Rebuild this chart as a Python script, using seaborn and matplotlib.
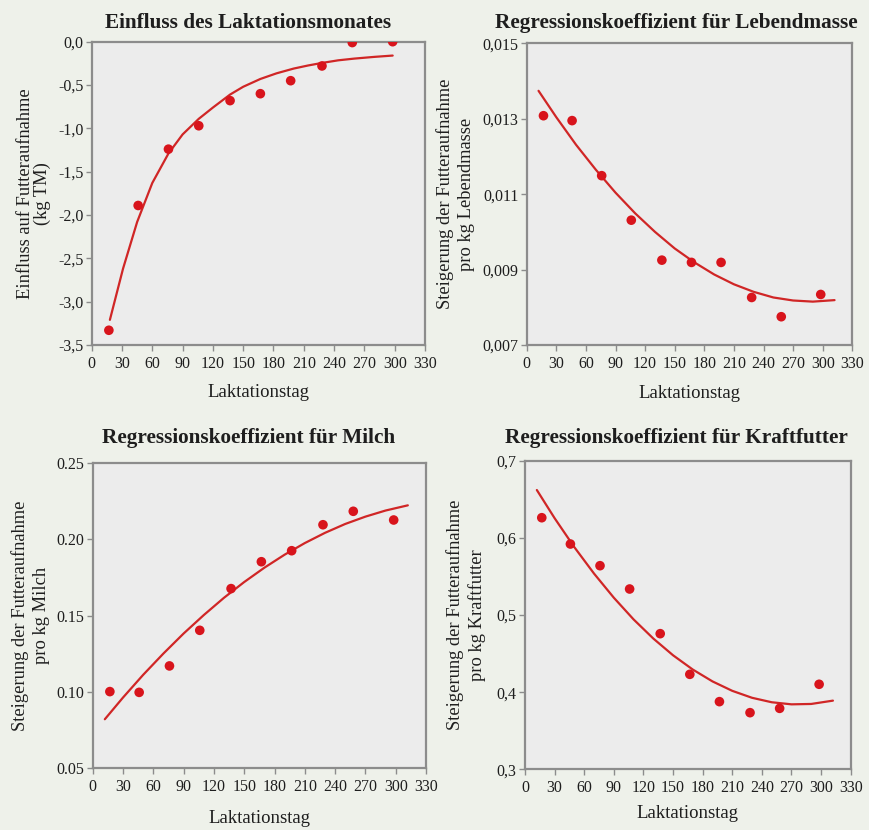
import matplotlib
matplotlib.use("Agg")
import matplotlib.pyplot as plt
from matplotlib.ticker import FuncFormatter, FixedLocator
import seaborn as sns
import pandas as pd

# ---------------- data ----------------
days = [17, 46, 76, 106, 137, 167, 197, 228, 258, 298]

einfluss = [-3.33, -1.89, -1.24, -0.97, -0.68, -0.60, -0.45, -0.28, -0.01, 0.00]
lebendmasse = [0.01308, 0.01295, 0.01149, 0.01031, 0.00925, 0.00919, 0.00919, 0.00826, 0.00775, 0.00834]
milch = [0.1002, 0.0997, 0.1170, 0.1403, 0.1676, 0.1852, 0.1924, 0.2094, 0.2182, 0.2125]
kraftfutter = [0.6261, 0.5920, 0.5639, 0.5337, 0.4758, 0.4231, 0.3877, 0.3734, 0.3790, 0.4102]

# fitted curves
fit1_x = [18, 31, 45, 60, 76, 90, 106, 120, 137, 150, 167, 183, 200, 214, 228, 244, 260, 280, 298]
fit1_y = [-3.21, -2.62, -2.08, -1.63, -1.29, -1.07, -0.89, -0.76, -0.61, -0.52, -0.43, -0.365,
          -0.31, -0.275, -0.245, -0.215, -0.195, -0.175, -0.16]

fit_x = [12, 30, 50, 70, 90, 110, 130, 150, 170, 190, 210, 230, 250, 270, 290, 312]
fit2_y = [0.01374, 0.01304, 0.01231, 0.01165, 0.01104, 0.01049, 0.01000, 0.00956, 0.00919,
          0.00887, 0.00861, 0.00841, 0.00826, 0.00818, 0.00815, 0.00819]
fit3_y = [0.0821, 0.0963, 0.1112, 0.1251, 0.1382, 0.1503, 0.1616, 0.1719, 0.1813, 0.1898,
          0.1974, 0.2041, 0.2099, 0.2147, 0.2187, 0.2221]
fit4_y = [0.662, 0.6255, 0.5879, 0.5536, 0.5224, 0.4943, 0.4695, 0.4478, 0.4293, 0.4139,
          0.4017, 0.3927, 0.3869, 0.3842, 0.3847, 0.3890]

titles = ["Einfluss des Laktationsmonates",
          "Regressionskoeffizient für Lebendmasse",
          "Regressionskoeffizient für Milch",
          "Regressionskoeffizient für Kraftfutter"]
ylabels = ["Einfluss auf Futteraufnahme\n(kg TM)",
           "Steigerung der Futteraufnahme\npro kg Lebendmasse",
           "Steigerung der Futteraufnahme\npro kg Milch",
           "Steigerung der Futteraufnahme\npro kg Kraftfutter"]
xlabel = "Laktationstag"
xticks = [0, 30, 60, 90, 120, 150, 180, 210, 240, 270, 300, 330]
yticks = [
    [0.0, -0.5, -1.0, -1.5, -2.0, -2.5, -3.0, -3.5],
    [0.007, 0.009, 0.011, 0.013, 0.015],
    [0.05, 0.10, 0.15, 0.20, 0.25],
    [0.3, 0.4, 0.5, 0.6, 0.7],
]
ydec = [1, 3, 2, 1]
ydecsep = [",", ",", ".", ","]

# ---------------- style ----------------
sns.set_theme(style="ticks")
plt.rcParams["font.family"] = ["Liberation Serif", "DejaVu Serif"]

FIG_BG = "#eef1ea"
AX_BG = "#ececec"
RED_PT = "#d8141c"
RED_LN = "#d02626"
SPINE = "#8c8c8c"
TXT = "#1e1e1e"

W, H = 869, 830
fig = plt.figure(figsize=(W / 100, H / 100), dpi=100, facecolor=FIG_BG)

# axes boxes in pixels: left, top, right, bottom
boxes = [
    (91.7, 41.7, 425.0, 345.0),
    (526.7, 43.3, 852.3, 345.0),
    (92.7, 462.7, 426.0, 768.3),
    (525.0, 460.7, 850.7, 769.3),
]
title_cx = [248.5, 676.0, 249.0, 676.5]
title_cy = [23.0, 23.0, 438.0, 438.0]
ylab_cx = [34.0, 455.5, 30.5, 466.0]
ylab_ls = [1.05, 1.35, 1.35, 1.35]
xlab_cy = [392.0, 393.0, 818.0, 813.0]

series = [einfluss, lebendmasse, milch, kraftfutter]
fits = [(fit1_x, fit1_y), (fit_x, fit2_y), (fit_x, fit3_y), (fit_x, fit4_y)]

for i in range(4):
    l, t, r, b = boxes[i]
    w, h = r - l, b - t
    ax = fig.add_axes([l / W, 1 - b / H, w / W, h / H])
    ax.set_facecolor(AX_BG)
    pts = pd.DataFrame({"x": days, "y": series[i]})
    crv = pd.DataFrame({"x": fits[i][0], "y": fits[i][1]})
    sns.lineplot(data=crv, x="x", y="y", ax=ax, color=RED_LN, lw=1.6, zorder=2)
    sns.scatterplot(data=pts, x="x", y="y", ax=ax, color=RED_PT, s=48,
                    edgecolor="none", zorder=3)
    ax.set_xlim(0, 330)
    yt = yticks[i]
    ax.set_ylim(min(yt), max(yt))
    ax.xaxis.set_major_locator(FixedLocator(xticks))
    ax.yaxis.set_major_locator(FixedLocator(yt))
    d, sep = ydec[i], ydecsep[i]
    ax.yaxis.set_major_formatter(FuncFormatter(
        lambda v, p, d=d, sep=sep: (f"{v:.{d}f}").replace(".", sep).replace("-0" + sep + "0" * d, "0" + sep + "0" * d)))
    for sp in ax.spines.values():
        sp.set_color(SPINE)
        sp.set_linewidth(1.6)
    ax.tick_params(axis="both", direction="out", length=4, width=1, color=SPINE,
                   labelsize=11.5, labelcolor=TXT)
    ax.tick_params(axis="x", pad=4)
    ax.tick_params(axis="y", pad=2)
    ax.set_xlabel(xlabel, fontsize=13.5, color=TXT, va="center")
    ax.xaxis.set_label_coords(0.5, -(xlab_cy[i] - b) / h)
    ax.set_ylabel(ylabels[i], fontsize=13.3, color=TXT, linespacing=ylab_ls[i],
                  va="center", ha="center")
    ax.yaxis.set_label_coords((ylab_cx[i] - l) / w, 0.5)
    ax.set_title(titles[i], fontsize=15.3, fontweight="bold", color=TXT,
                 x=(title_cx[i] - l) / w, y=1 + (t - title_cy[i]) / h, va="center", pad=0)

fig.savefig("out.png", dpi=100, facecolor=FIG_BG)
